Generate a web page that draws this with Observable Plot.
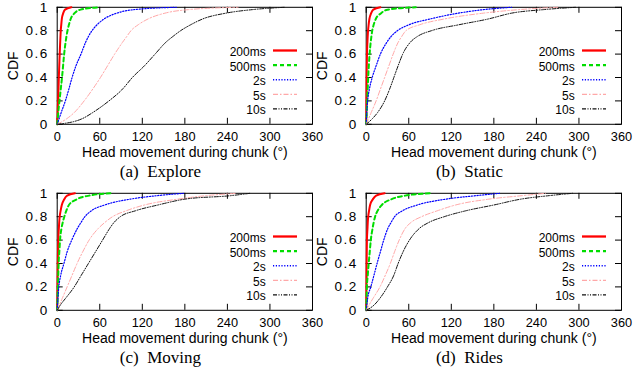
<!DOCTYPE html>
<html><head><meta charset="utf-8">
<script src="https://cdn.jsdelivr.net/npm/d3@7"></script>
<script src="https://cdn.jsdelivr.net/npm/@observablehq/plot@0.6"></script>
<style>
body{margin:0;background:#fff;}
#wrap{position:relative;width:634px;height:370px;overflow:hidden;background:#fff;}
.panel{position:absolute;width:317px;height:185px;}
.panel svg{overflow:visible;background:transparent;max-width:none;position:absolute;left:0;top:0;}
</style></head><body><div id="wrap"></div>
<script>
// CDF levels shared by every curve
const cdfLevels = [0, 0.05, 0.1, 0.2, 0.3, 0.4, 0.5, 0.6, 0.7, 0.75, 0.8, 0.85, 0.9, 0.95, 0.98, 1];
const seriesNames = ["200ms", "500ms", "2s", "5s", "10s"];
const xTicks = [0, 60, 120, 180, 240, 300, 360];
const yTicks = [0, 0.2, 0.4, 0.6, 0.8, 1];
const panelCaptions = ["(a)\u2002Explore", "(b)\u2002Static", "(c)\u2002Moving", "(d)\u2002Rides"];
const xLabel = "Head movement during chunk (°)";
const yLabel = "CDF";

// head movement (degrees) at each CDF level, one row per series
const exploreDeg = [
  [0, 0.3, 0.6, 1.2, 1.8, 2.3, 2.9, 3.5, 4.2, 4.6, 5, 5.7, 6.5, 8.5, 11, 20],
  [0, 0.8, 1.5, 3.2, 5, 6.8, 8.3, 9.8, 11.8, 13, 14.5, 16.5, 19, 24.5, 33, 60],
  [0, 2.8, 5.6, 11.5, 16.4, 21, 26.5, 33.5, 40, 44, 49, 56, 66, 84, 108, 168],
  [0, 14, 24, 38, 50, 61, 71, 81, 92, 98, 104, 114, 128, 152, 185, 255],
  [0, 36, 50, 73, 92, 106, 123, 138, 153, 163, 174, 188, 205, 238, 275, 320]
];
const staticDeg = [
  [0, 0.1, 0.15, 0.3, 0.45, 0.6, 0.85, 1.1, 1.7, 2.1, 2.6, 3.4, 4.5, 7, 10, 20],
  [0, 0.35, 0.7, 1.4, 2.1, 2.8, 3.7, 4.8, 6.3, 7.3, 8.5, 10.5, 13.5, 21, 30, 70],
  [0, 0.4, 0.8, 2, 4.5, 8.5, 14, 20, 29, 35, 44, 60, 90, 130, 165, 205],
  [0, 3.5, 7, 14, 20, 26, 32, 38, 45, 50, 56, 75, 110, 165, 215, 270],
  [0, 9, 16, 26, 33, 39, 45, 51.5, 62, 72, 92, 130, 172, 205, 250, 295]
];
const movingDeg = [
  [0, 0.1, 0.2, 0.4, 0.6, 0.8, 1.1, 1.5, 2.3, 2.8, 3.5, 4.8, 6.5, 10, 14, 25],
  [0, 0.25, 0.5, 1, 1.5, 2, 3, 4, 6, 7.8, 10, 12.8, 16.5, 28, 45, 75],
  [0, 0.5, 1, 2.3, 5, 9.5, 14, 20.5, 28.5, 33.5, 39, 48, 67, 103, 141, 178],
  [0, 3.5, 7, 14, 21, 28, 36, 45, 58, 67, 78, 97, 123, 170, 210, 253],
  [0, 5, 11.5, 24, 34, 44, 54, 64, 74, 80, 89, 110, 142, 180, 245, 272]
];
const ridesDeg = [
  [0, 0.08, 0.15, 0.3, 0.45, 0.6, 0.8, 1, 1.8, 2.2, 2.8, 4, 5.5, 9.5, 14, 26],
  [0, 0.25, 0.5, 1, 2.2, 3.5, 5, 6.5, 9, 10.5, 12.5, 16, 22, 36, 55, 90],
  [0, 1, 2, 6.5, 11, 15.3, 20, 24.7, 30.5, 35, 40, 51, 72, 112, 155, 188],
  [0, 4.5, 9.4, 19.4, 27, 34, 40, 46.5, 55, 63, 78, 100, 126, 173, 220, 253],
  [0, 12, 19, 30, 39, 45, 52, 61, 75, 88, 110, 140, 180, 218, 258, 291]
];
const panelData = [exploreDeg, staticDeg, movingDeg, ridesDeg];

// styles
const seriesColors = ["#ff0000", "#00dd00", "#0000ff", "#ffa8a8", "#111111"];
const seriesWidths = [2, 2, 1.2, 1, 1];
const seriesDash = [null, "4,3", "1.2,1.6", "5,2,1.5,2", "4,1.5,1,1.5,1,1.5"];
const panelPos = [[0, 0], [309, 0], [0, 186], [309, 186]];

const W = 317, H = 185, mL = 56.7, mR = 5, mT = 6.8, mB = 61.2;
const sans = "'Liberation Sans', Arial, sans-serif";
const wrap = document.getElementById("wrap");

panelData.forEach((degs, p) => {
  const div = document.createElement("div");
  div.className = "panel";
  div.style.left = panelPos[p][0] + "px";
  div.style.top = panelPos[p][1] + "px";
  wrap.appendChild(div);

  const lineMarks = degs.map((row, s) => {
    const pts = row.map((d, i) => ({deg: d, cdf: cdfLevels[i]}));
    return Plot.line(pts, {x: "deg", y: "cdf", stroke: seriesColors[s], strokeWidth: seriesWidths[s],
      strokeDasharray: seriesDash[s] || undefined, curve: "monotone-x"});
  });

  const chart = Plot.plot({
    width: W, height: H,
    marginLeft: mL, marginRight: mR, marginTop: mT, marginBottom: mB,
    x: {domain: [0, 360]},
    y: {domain: [0, 1]},
    style: {background: "transparent", overflow: "visible", fontFamily: sans, color: "black"},
    marks: [
      Plot.frame({stroke: "black", strokeWidth: 1}),
      Plot.ruleX(xTicks, {x: d => d, y1: () => 0, y2: () => 0, insetBottom: 6, stroke: "black"}),
      Plot.ruleX(xTicks, {x: d => d, y1: () => 1, y2: () => 1, insetTop: 6, stroke: "black"}),
      Plot.ruleY(yTicks, {y: d => d, x1: () => 0, x2: () => 0, insetLeft: 6, stroke: "black"}),
      Plot.ruleY(yTicks, {y: d => d, x1: () => 360, x2: () => 360, insetRight: 6, stroke: "black"}),
      ...lineMarks,
      Plot.axisX(xTicks, {tickSize: 0, tickPadding: 8, fontSize: 12.8, label: null, tickFormat: d => String(d)}),
      Plot.axisY(yTicks, {tickSize: 0, tickPadding: 8.5, fontSize: 13.5, label: null, tickFormat: d => String(d)}),
      Plot.text([xLabel], {text: d => d, frameAnchor: "bottom", lineAnchor: "middle", textAnchor: "middle",
        dy: 27.8, fontSize: 14}),
      Plot.text([yLabel], {text: d => d, frameAnchor: "left", lineAnchor: "middle", textAnchor: "middle",
        dx: -43.5, rotate: -90, fontSize: 14}),
      Plot.text([panelCaptions[p]], {text: d => d, frameAnchor: "bottom", lineAnchor: "middle", textAnchor: "middle",
        dx: -24.4, dy: 47, fontSize: 17, fontFamily: "'Liberation Serif', 'DejaVu Serif', serif"})
    ]
  });
  div.appendChild(chart);
  d3.select(chart).selectAll('g[aria-label="y-axis tick label"] text').style("letter-spacing", "1.5px");

  // key
  const key = d3.select(div).append("svg")
    .attr("width", W).attr("height", H)
    .style("pointer-events", "none");
  seriesNames.forEach((name, s) => {
    const yy = 50.5 + s * 14.6;
    key.append("text").attr("x", 265.7).attr("y", yy + 5.5)
      .attr("text-anchor", "end").attr("font-family", sans).attr("font-size", 12).text(name);
    key.append("line").attr("x1", 273).attr("x2", 297).attr("y1", yy).attr("y2", yy)
      .attr("stroke", seriesColors[s]).attr("stroke-width", seriesWidths[s] + 0.3)
      .attr("stroke-dasharray", seriesDash[s]);
  });
});
</script></body></html>
